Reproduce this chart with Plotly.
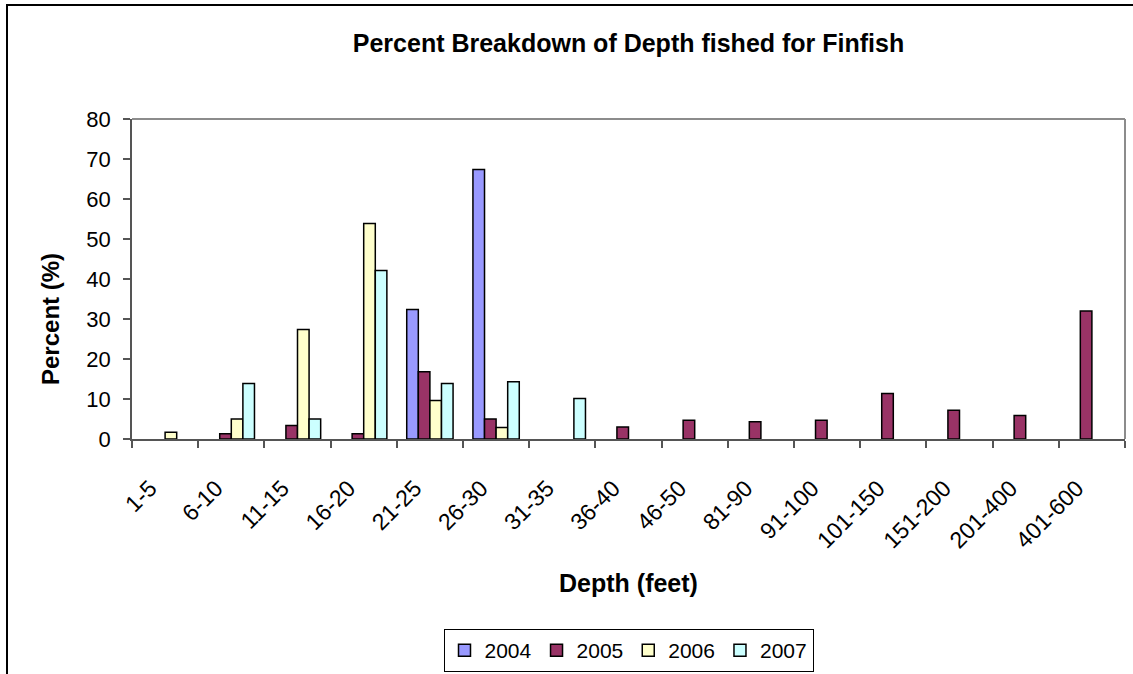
import plotly.graph_objects as go

# Depth ranges (feet) and percent of trips per year
depths = ["1-5", "6-10", "11-15", "16-20", "21-25", "26-30", "31-35", "36-40",
          "46-50", "81-90", "91-100", "101-150", "151-200", "201-400", "401-600"]
pct_2004 = [None, None, None, None, 32.4, 67.4, None, None,
            None, None, None, None, None, None, None]
pct_2005 = [None, 1.3, 3.4, 1.3, 16.8, 5.0, None, 3.0,
            4.7, 4.3, 4.7, 11.4, 7.2, 5.9, 32.0]
pct_2006 = [1.7, 5.0, 27.4, 53.9, 9.6, 2.9, None, None,
            None, None, None, None, None, None, None]
pct_2007 = [None, 13.9, 5.0, 42.1, 13.9, 14.3, 10.1, None,
            None, None, None, None, None, None, None]

years = ["2004", "2005", "2006", "2007"]
series = [pct_2004, pct_2005, pct_2006, pct_2007]
colors = ["#9999FF", "#993366", "#FFFFCC", "#CCFFFF"]

FONT = "Arial, Liberation Sans, sans-serif"
W, H = 1133, 674
L, R, T, B = 132, 8, 119, 235
pw, ph = W - L - R, H - T - B

fig = go.Figure()
for name, vals, col in zip(years, series, colors):
    fig.add_trace(go.Bar(
        x=depths, y=vals, name=name,
        marker=dict(color=col, line=dict(color="#000000", width=1.5)),
    ))

axis_col = "#555555"
fig.update_layout(
    width=W, height=H,
    margin=dict(l=L, r=R, t=T, b=B, pad=0, autoexpand=False),
    paper_bgcolor="white", plot_bgcolor="white",
    barmode="group", bargap=0.3, bargroupgap=0,
    font=dict(family=FONT, size=22, color="black"),
    title=dict(text="<b>Percent Breakdown of Depth fished for Finfish</b>",
               font=dict(family=FONT, size=25, color="black"),
               x=0.5, xref="paper", xanchor="center",
               y=1 - 43 / H, yref="container", yanchor="middle"),
    xaxis=dict(
        type="category", showgrid=False, zeroline=False, automargin=False,
        showline=True, linecolor=axis_col, linewidth=1.5,
        ticks="outside", tickson="boundaries", ticklen=7,
        tickcolor=axis_col, tickwidth=1.5, tickangle=-45,
        ticklabelstandoff=25, ticklabelshift=-15,
        tickfont=dict(family=FONT, size=23, color="black"),
        title=dict(text="<b>Depth (feet)</b>", standoff=22,
                   font=dict(family=FONT, size=25, color="black")),
    ),
    yaxis=dict(
        range=[0, 80], dtick=10, showgrid=False, zeroline=False,
        automargin=False,
        showline=True, linecolor=axis_col, linewidth=1.5,
        ticks="outside", ticklen=7, tickcolor=axis_col, tickwidth=1.5,
        ticklabelstandoff=8,
        tickfont=dict(family=FONT, size=22, color="black"),
    ),
    legend=dict(
        orientation="h", x=0.5, xanchor="center",
        y=(ph - (629 - T)) / ph, yanchor="top", yref="paper",
        bordercolor="black", borderwidth=1, bgcolor="white",
        font=dict(family=FONT, size=21, color="black"),
        itemwidth=30, tracegroupgap=0,
    ),
    showlegend=True,
)

# y-axis title, sitting a little below the middle of the plot
fig.add_annotation(text="<b>Percent (%)</b>", textangle=-90,
                   xref="paper", yref="paper",
                   x=(50 - L) / pw, y=(ph - (319 - T)) / ph,
                   xanchor="center", yanchor="middle", showarrow=False,
                   font=dict(family=FONT, size=24, color="black"))

# gray plot-area border on the top and right sides
fig.add_shape(type="line", xref="paper", yref="paper", x0=0, x1=1, y0=1, y1=1,
              line=dict(color="#8c8c8c", width=2))
fig.add_shape(type="line", xref="paper", yref="paper", x0=1, x1=1, y0=0, y1=1,
              line=dict(color="#8c8c8c", width=2))

# outer chart frame (runs past the right and bottom edges of the page)
fig.add_shape(type="rect", xref="paper", yref="paper",
              x0=(7 - L) / pw, x1=(W + 20 - L) / pw,
              y0=(T + ph - (H + 20)) / ph, y1=(T + ph - 5) / ph,
              line=dict(color="black", width=2), layer="below")

fig.write_html("out.html")
